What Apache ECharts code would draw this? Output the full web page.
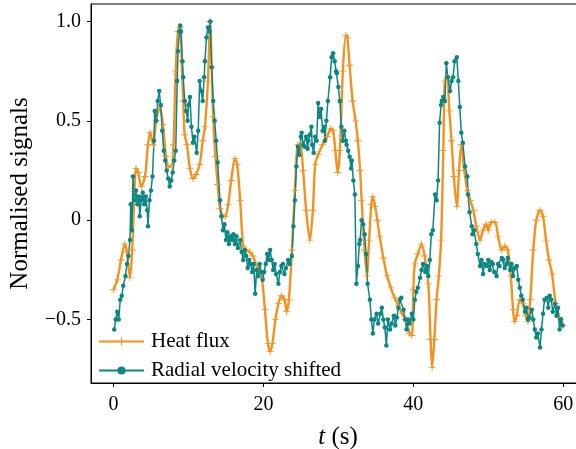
<!DOCTYPE html>
<html>
<head>
<meta charset="utf-8">
<script src="https://cdn.jsdelivr.net/npm/echarts@6/dist/echarts.min.js"></script>
<style>html,body{margin:0;padding:0;background:#fff}#c{width:576px;height:449px}</style>
</head>
<body>
<div id="c"></div>
<script>
const xTicks = [0, 20, 40, 60];
const yTicks = [-0.5, 0, 0.5, 1.0];
const seriesNames = ['Heat flux', 'Radial velocity shifted'];

const heatT = [0,0.5,1.0,1.5,1.8,2.2,2.5,2.8,3.0,3.3,3.7,4.2,4.6,4.9,5.3,5.7,6.2,6.6,7.0,7.3,7.7,8.0,8.3,8.6,8.9,9.1,9.3,9.5,9.8,10.2,10.6,11.0,11.5,11.9,12.2,12.6,12.9,13.1,13.3,13.6,13.9,14.2,14.6,14.9,15.3,15.7,16.2,16.5,16.9,17.3,17.7,18.2,18.6,19.0,19.5,19.8,20.2,20.6,20.9,21.2,21.6,22.0,22.4,22.8,23.1,23.4,23.8,24.2,24.6,24.9,25.3,25.7,26.2,26.6,26.9,27.3,27.9,28.5,29.0,29.3,29.6,29.9,30.2,30.6,31.0,31.2,31.5,31.9,32.3,32.6,32.9,33.1,33.5,33.8,34.1,34.4,34.6,34.9,35.2,35.5,36.0,36.5,37.0,37.5,38.0,38.5,39.0,39.5,39.8,40.0,40.2,40.6,41.1,41.5,42.0,42.3,42.5,42.8,43.1,43.4,43.7,44.0,44.2,44.5,44.8,45.1,45.4,45.8,46.1,46.4,46.8,47.2,47.6,48.0,48.4,48.9,49.3,49.7,50.0,50.4,50.9,51.3,51.8,52.2,52.6,53.0,53.3,53.5,53.8,54.2,54.6,55.0,55.3,55.6,56.0,56.4,56.9,57.3,57.7,58.1,58.5,59.0,59.5,60.0];
const heatV = [-0.35,-0.30,-0.20,-0.12,-0.16,-0.29,-0.15,0.15,0.26,0.24,0.17,0.22,0.38,0.44,0.38,0.50,0.57,0.48,0.32,0.27,0.27,0.38,0.75,0.95,0.97,0.80,0.60,0.43,0.38,0.26,0.21,0.23,0.28,0.40,0.47,0.70,1.00,0.77,0.52,0.32,0.18,0.06,0.02,0.02,0.08,0.20,0.31,0.28,0.10,-0.13,-0.15,-0.16,-0.18,-0.22,-0.26,-0.29,-0.45,-0.62,-0.66,-0.62,-0.50,-0.42,-0.38,-0.40,-0.46,-0.40,-0.15,0.15,0.38,0.38,0.25,0.05,-0.10,0.05,0.28,0.33,0.38,0.42,0.46,0.45,0.35,0.24,0.35,0.75,0.93,0.92,0.78,0.60,0.50,0.40,0.25,0.10,-0.15,-0.28,-0.10,0.08,0.12,0.07,0.00,-0.08,-0.19,-0.28,-0.34,-0.39,-0.43,-0.47,-0.50,-0.57,-0.58,-0.35,-0.22,-0.17,-0.12,-0.18,-0.32,-0.60,-0.74,-0.60,-0.40,-0.28,-0.10,0.35,0.70,0.72,0.55,0.40,0.22,0.07,0.25,0.38,0.25,0.15,0.10,0.05,-0.03,-0.10,-0.05,-0.02,-0.05,-0.01,-0.01,-0.08,-0.15,-0.13,-0.15,-0.28,-0.45,-0.51,-0.48,-0.40,-0.42,-0.48,-0.51,-0.40,-0.15,0.00,0.05,0.02,-0.10,-0.20,-0.27,-0.42,-0.49,-0.53];

const velT = [0.1,0.3,0.5,0.7,0.9,1.1,1.3,1.6,1.8,2.0,2.2,2.3,2.45,2.6,2.8,3.0,3.2,3.4,3.5,3.7,3.9,4.1,4.3,4.5,4.6,4.8,5.0,5.2,5.4,5.5,5.7,5.9,6.1,6.3,6.5,6.7,6.9,7.1,7.3,7.5,7.7,7.9,8.1,8.3,8.5,8.6,8.8,8.9,9.0,9.2,9.3,9.5,9.7,9.9,10.0,10.2,10.4,10.6,10.8,11.1,11.3,11.5,11.7,11.9,12.1,12.2,12.4,12.6,12.8,12.9,13.1,13.3,13.5,13.7,13.9,14.2,14.4,14.6,14.8,15.0,15.2,15.4,15.6,15.8,16.0,16.2,16.4,16.6,16.9,17.1,17.3,17.5,17.7,17.9,18.1,18.3,18.5,18.7,18.9,19.1,19.3,19.5,19.7,19.9,20.1,20.3,20.5,20.7,20.9,21.1,21.3,21.5,21.7,22.0,22.2,22.4,22.6,22.8,23.0,23.3,23.5,23.8,24.0,24.2,24.4,24.6,24.8,25.0,25.1,25.3,25.5,25.7,25.9,26.0,26.2,26.4,26.5,26.7,26.9,27.1,27.3,27.5,27.7,27.9,28.1,28.2,28.4,28.6,28.9,29.1,29.3,29.5,29.7,29.8,30.0,30.2,30.4,30.6,30.8,31.0,31.1,31.3,31.5,31.7,31.8,32.0,32.2,32.4,32.6,32.8,32.9,33.1,33.3,33.5,33.7,33.9,34.2,34.4,34.6,34.8,35.1,35.3,35.6,35.8,36.0,36.2,36.4,36.6,36.9,37.1,37.4,37.6,37.8,38.0,38.2,38.4,38.7,38.9,39.1,39.3,39.5,39.8,40.0,40.2,40.4,40.6,40.9,41.1,41.3,41.6,41.8,42.0,42.2,42.4,42.6,42.9,43.1,43.3,43.5,43.7,43.8,44.0,44.2,44.4,44.6,44.9,45.1,45.3,45.5,45.8,46.0,46.2,46.4,46.6,46.9,47.2,47.3,47.5,47.8,47.9,48.1,48.4,48.6,48.9,49.1,49.3,49.5,49.8,50.0,50.2,50.4,50.6,50.8,51.1,51.3,51.5,51.8,52.0,52.2,52.4,52.6,52.9,53.1,53.3,53.5,53.8,54.0,54.2,54.4,54.6,54.9,55.1,55.3,55.5,55.8,56.0,56.2,56.4,56.6,56.9,57.1,57.3,57.5,57.8,58.0,58.2,58.4,58.6,58.9,59.1,59.3,59.5,59.7,59.9];
const velV = [-0.55,-0.50,-0.46,-0.50,-0.40,-0.38,-0.33,-0.28,-0.22,-0.18,-0.10,0.08,-0.05,0.22,0.10,0.15,0.08,0.12,0.02,0.10,0.14,0.08,0.12,0.05,-0.03,0.10,0.15,0.22,0.40,0.55,0.50,0.60,0.65,0.58,0.45,0.35,0.30,0.25,0.21,0.17,0.20,0.24,0.30,0.35,0.70,0.85,0.95,0.98,0.95,0.80,0.72,0.60,0.55,0.50,0.58,0.62,0.47,0.39,0.42,0.34,0.45,0.70,0.65,0.60,0.72,0.80,0.92,0.97,0.95,1.00,0.77,0.60,0.50,0.40,0.29,0.10,0.02,-0.05,-0.02,-0.10,-0.06,-0.12,-0.08,-0.10,-0.07,-0.12,-0.08,-0.14,-0.10,-0.16,-0.20,-0.15,-0.18,-0.24,-0.20,-0.22,-0.26,-0.22,-0.37,-0.25,-0.28,-0.22,-0.26,-0.30,-0.26,-0.22,-0.17,-0.20,-0.15,-0.20,-0.25,-0.22,-0.27,-0.32,-0.26,-0.23,-0.22,-0.27,-0.24,-0.20,-0.22,-0.18,-0.03,0.10,0.27,0.37,0.33,0.42,0.44,0.38,0.37,0.42,0.36,0.40,0.43,0.47,0.38,0.34,0.42,0.40,0.59,0.52,0.56,0.45,0.47,0.40,0.50,0.60,0.72,0.82,0.84,0.80,0.75,0.74,0.67,0.60,0.47,0.40,0.45,0.40,0.38,0.35,0.32,0.26,0.30,0.20,0.13,-0.32,-0.23,-0.12,-0.10,0.00,-0.02,-0.07,-0.17,-0.32,-0.40,-0.50,-0.57,-0.50,-0.47,-0.52,-0.47,-0.44,-0.50,-0.54,-0.63,-0.50,-0.55,-0.52,-0.48,-0.53,-0.49,-0.44,-0.40,-0.39,-0.45,-0.50,-0.55,-0.50,-0.52,-0.47,-0.50,-0.40,-0.36,-0.34,-0.29,-0.25,-0.22,-0.26,-0.23,-0.28,-0.20,-0.07,-0.05,0.13,0.10,0.20,0.49,0.58,0.60,0.62,0.60,0.79,0.72,0.65,0.70,0.72,0.80,0.82,0.70,0.57,0.44,0.39,0.27,0.22,0.13,0.04,-0.03,-0.07,-0.05,-0.12,-0.17,-0.23,-0.20,-0.27,-0.22,-0.23,-0.20,-0.25,-0.21,-0.22,-0.26,-0.28,-0.22,-0.23,-0.19,-0.20,-0.24,-0.22,-0.19,-0.25,-0.22,-0.28,-0.24,-0.23,-0.30,-0.34,-0.38,-0.40,-0.46,-0.44,-0.50,-0.49,-0.45,-0.50,-0.55,-0.59,-0.57,-0.64,-0.55,-0.47,-0.40,-0.39,-0.44,-0.38,-0.40,-0.46,-0.42,-0.48,-0.44,-0.55,-0.50,-0.53];

const ORANGE = '#f5921f';
const TEAL = '#0b8682';
const FONT = 'Liberation Serif';
const PLUS = 'path://M0,2.2H5V2.8H0Z M2.2,0H2.8V5H2.2Z';

const heatData = heatT.map((t, i) => [t, heatV[i]]);
const velData = velT.map((t, i) => [t, velV[i]]);

const fmtY = v => v === 0 ? '0' : v.toFixed(1).replace('-', '\u2212');

const chart = echarts.init(document.getElementById('c'), null, {renderer: 'canvas'});
chart.setOption({
  animation: false,
  backgroundColor: '#fff',
  grid: {left: 91, top: 4, right: -9, bottom: 66, show: true, borderColor: '#000', borderWidth: 1,
    backgroundColor: 'transparent', containLabel: false, outerBoundsMode: 'none'},
  xAxis: {
    type: 'value', min: -3, max: 62.9,
    splitLine: {show: false},
    axisLine: {show: true, onZero: false, lineStyle: {color: '#000', width: 1}},
    axisTick: {show: true, inside: false, length: 4, lineStyle: {color: '#000'}, customValues: xTicks},
    axisLabel: {customValues: xTicks, color: '#000', fontSize: 20, fontFamily: FONT, margin: 12},
    name: '{i|t} (s)', nameLocation: 'middle', nameGap: 42,
    nameTextStyle: {fontSize: 25, fontFamily: FONT, color: '#000',
      rich: {i: {fontStyle: 'italic', fontSize: 25, fontFamily: FONT, color: '#000'}}}
  },
  yAxis: {
    type: 'value', min: -0.819, max: 1.088,
    splitLine: {show: false},
    axisLine: {show: true, onZero: false, lineStyle: {color: '#000', width: 1}},
    axisTick: {show: true, inside: false, length: 4, lineStyle: {color: '#000'}, customValues: yTicks},
    axisLabel: {customValues: yTicks, formatter: fmtY, color: '#000', fontSize: 20, fontFamily: FONT, margin: 10},
    name: 'Normalised signals', nameLocation: 'middle', nameGap: 58,
    nameTextStyle: {fontSize: 25, fontFamily: FONT, color: '#000'}
  },
  legend: {
    data: seriesNames, orient: 'vertical', left: 98, top: 331, padding: 0,
    itemWidth: 45, itemHeight: 10, itemGap: 8,
    textStyle: {fontSize: 21, fontFamily: FONT, color: '#000', padding: [0, 0, 0, 2]}
  },
  series: [
    {
      name: seriesNames[0], type: 'line', data: heatData, smooth: 0.3,
      symbol: PLUS, symbolSize: 7, showSymbol: true,
      lineStyle: {color: ORANGE, width: 2.4}, itemStyle: {color: ORANGE}
    },
    {
      name: seriesNames[1], type: 'line', data: velData,
      symbol: 'circle', symbolSize: 4.5, showSymbol: true,
      lineStyle: {color: TEAL, width: 1.5}, itemStyle: {color: TEAL}
    }
  ]
});
</script>
</body>
</html>
